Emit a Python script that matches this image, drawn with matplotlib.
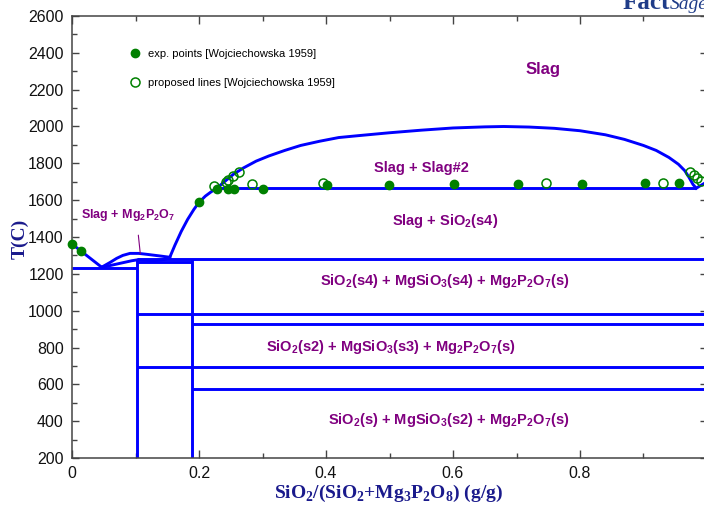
import matplotlib
matplotlib.use("Agg")
import matplotlib.pyplot as plt
from matplotlib.lines import Line2D
from matplotlib.ticker import MultipleLocator

plt.rcParams['font.family'] = ['Liberation Sans', 'DejaVu Sans']
plt.rcParams['mathtext.fontset'] = 'custom'
plt.rcParams['mathtext.rm'] = 'Liberation Sans:bold'
plt.rcParams['mathtext.it'] = 'Liberation Sans:bold'
plt.rcParams['mathtext.sf'] = 'Liberation Sans:bold'
plt.rcParams['mathtext.bf'] = 'Liberation Serif:bold'

# ---- phase boundaries (x = mass fraction SiO2, T in C) ----
left_liquidus_x = [0.0, 0.0467]
left_liquidus_t = [1362, 1236]

upper_mg2p2o7_x = [0.0467, 0.060, 0.0703, 0.080, 0.0913, 0.105, 0.1176, 0.1386, 0.154]
upper_mg2p2o7_t = [1236, 1262, 1284, 1300, 1311, 1311, 1306, 1297, 1290]

lower_mg2p2o7_x = [0.0467, 0.060, 0.0756, 0.094, 0.1029, 0.115, 0.128, 0.142, 0.154]
lower_mg2p2o7_t = [1236, 1245, 1257, 1271, 1276, 1274, 1271, 1276, 1285]

silica_liquidus_x = [0.154, 0.162, 0.172, 0.182, 0.192, 0.200, 0.210, 0.219, 0.228,
                     0.240, 0.254, 0.270, 0.290, 0.310, 0.335, 0.360, 0.390, 0.420,
                     0.450, 0.500, 0.550, 0.600, 0.650, 0.680, 0.720, 0.760, 0.800,
                     0.840, 0.870, 0.900, 0.920, 0.940, 0.955, 0.965, 0.972, 0.978, 0.983]
silica_liquidus_t = [1290, 1355, 1430, 1495, 1550, 1588, 1622, 1645, 1665,
                     1700, 1740, 1775, 1812, 1840, 1870, 1897, 1920, 1940,
                     1950, 1966, 1980, 1992, 1998, 2000, 1997, 1990, 1977,
                     1955, 1930, 1897, 1870, 1832, 1795, 1760, 1722, 1685, 1665]

sio2_end_x = [0.983, 1.0]
sio2_end_t = [1665, 1700]

# invariant (horizontal) lines: start x, end x, temperature
inv_x0 = [0.0,    0.1018, 0.1018, 0.228, 0.1018, 0.1885, 0.1018, 0.1885]
inv_x1 = [0.1018, 0.1885, 1.0,    0.983, 1.0,    1.0,    1.0,    1.0]
inv_t = [1233,   1263,   1281,   1665,  982,    926,    694,    576]

# compound (vertical) lines
vert_x = [0.1018, 0.1885]
vert_t0 = [200, 200]
vert_t1 = [1281, 1281]

# ---- experimental data [Wojciechowska 1959] ----
exp_x = [0.0, 0.014, 0.200, 0.228, 0.245, 0.255, 0.301, 0.401, 0.500, 0.602,
         0.702, 0.803, 0.903, 0.956]
exp_t = [1360, 1326, 1592, 1659, 1659, 1659, 1661, 1681, 1681, 1689,
         1686, 1689, 1693, 1693]

prop_x = [0.2236, 0.242, 0.246, 0.254, 0.2635, 0.283, 0.395, 0.746, 0.930,
          0.973, 0.9795, 0.985, 0.990]
prop_t = [1677, 1700, 1710, 1731, 1755, 1690, 1695, 1695, 1695,
          1755, 1737, 1720, 1704]

# ---- phase field labels ----
field_labels = ['Slag', 'Slag + Slag#2', r'Slag + SiO$_2$(s4)',
                r'SiO$_2$(s4) + MgSiO$_3$(s4) + Mg$_2$P$_2$O$_7$(s)',
                r'SiO$_2$(s2) + MgSiO$_3$(s3) + Mg$_2$P$_2$O$_7$(s)',
                r'SiO$_2$(s) + MgSiO$_3$(s2) + Mg$_2$P$_2$O$_7$(s)']
field_x = [0.741, 0.551, 0.587, 0.587, 0.502, 0.593]
field_t = [2312, 1773, 1489, 1160, 804, 406]
field_size = [12, 10.5, 10.5, 10.5, 10.5, 10.5]

x_ticks = [0, 0.2, 0.4, 0.6, 0.8]
x_tick_labels = ['0', '0.2', '0.4', '0.6', '0.8']
y_ticks = list(range(200, 2601, 200))

BLUE = '#0000ff'
PURPLE = '#800080'
GREEN = '#008000'
NAVY = '#1a1a8c'
LW = 2.1

fig = plt.figure(figsize=(7.04, 5.05), dpi=100)
ax = fig.add_axes([72 / 704, 47 / 505, 635 / 704, 442 / 505])
ax.set_xlim(0, 1.0)
ax.set_ylim(200, 2600)

ax.plot(left_liquidus_x, left_liquidus_t, color=BLUE, lw=LW)
ax.plot(upper_mg2p2o7_x, upper_mg2p2o7_t, color=BLUE, lw=LW)
ax.plot(lower_mg2p2o7_x, lower_mg2p2o7_t, color=BLUE, lw=LW)
ax.plot(silica_liquidus_x, silica_liquidus_t, color=BLUE, lw=LW)
ax.plot(sio2_end_x, sio2_end_t, color=BLUE, lw=LW)
ax.hlines(inv_t, inv_x0, inv_x1, colors=BLUE, lw=LW)
ax.vlines(vert_x, vert_t0, vert_t1, colors=BLUE, lw=LW)

ax.plot(exp_x, exp_t, 'o', color=GREEN, ms=6, mec=GREEN, zorder=5, clip_on=False)
ax.plot(prop_x, prop_t, 'o', color=GREEN, ms=6.5, mfc='none', mec=GREEN, mew=1.1,
        zorder=5, clip_on=False)

for lab, lx, lt, fs in zip(field_labels, field_x, field_t, field_size):
    ax.text(lx, lt, lab, color=PURPLE, fontsize=fs, fontweight='bold',
            ha='center', va='center')

ax.text(0.088, 1519, r'Slag + Mg$_2$P$_2$O$_7$', color=PURPLE, fontsize=9,
        fontweight='bold', ha='center', va='center')
ax.annotate('', xy=(0.108, 1295), xytext=(0.104, 1425),
            arrowprops=dict(arrowstyle='-', color=PURPLE, lw=0.8))

handles = [Line2D([], [], ls='none', marker='o', color=GREEN, ms=6),
           Line2D([], [], ls='none', marker='o', mfc='none', mec=GREEN, ms=6.5, mew=1.1)]
ax.legend(handles, ['exp. points [Wojciechowska 1959]',
                    'proposed lines [Wojciechowska 1959]'],
          loc='upper left', bbox_to_anchor=(0.093, 0.926), frameon=False,
          fontsize=8, handlelength=0.8, handletextpad=0.7, labelspacing=1.7,
          borderaxespad=0, borderpad=0)

ax.set_xticks(x_ticks)
ax.set_xticklabels(x_tick_labels)
ax.set_yticks(y_ticks)
ax.xaxis.set_minor_locator(MultipleLocator(0.1))
ax.yaxis.set_minor_locator(MultipleLocator(100))
ax.tick_params(axis='both', which='both', direction='in', colors='#444444',
               labelcolor='#111111', labelsize=11.5, width=1.0)
ax.tick_params(axis='x', which='major', length=6, pad=6, top=True)
ax.tick_params(axis='x', which='minor', length=3.5, top=True)
ax.tick_params(axis='y', which='major', length=5, pad=6, right=True)
ax.tick_params(axis='y', which='minor', length=3.5, right=False)
for s in ax.spines.values():
    s.set_color('#444444')
    s.set_linewidth(1.1)

ax.set_xlabel(r'SiO$_\mathbf{2}$/(SiO$_\mathbf{2}$+Mg$_\mathbf{3}$P$_\mathbf{2}$O$_\mathbf{8}$) (g/g)',
              fontfamily='Liberation Serif', fontweight='bold', fontsize=14,
              color=NAVY, va='center')
ax.xaxis.set_label_coords(0.499, -0.080)
ax.set_ylabel('T(C)', fontfamily='Liberation Serif', fontweight='bold',
              fontsize=14, color=NAVY, va='center')
ax.yaxis.set_label_coords(-0.082, 0.4955)

fig.text(670 / 704, 1 - 9 / 505, 'Fact', fontfamily='Liberation Serif',
         fontweight='bold', fontsize=18, color='#1f3c88', ha='right', va='baseline')
fig.text(670 / 704, 1 - 9 / 505, 'Sage', fontfamily='Liberation Serif',
         fontstyle='italic', fontsize=14, color='#1f3c88', ha='left', va='baseline')

fig.savefig('out.png', dpi=100)
